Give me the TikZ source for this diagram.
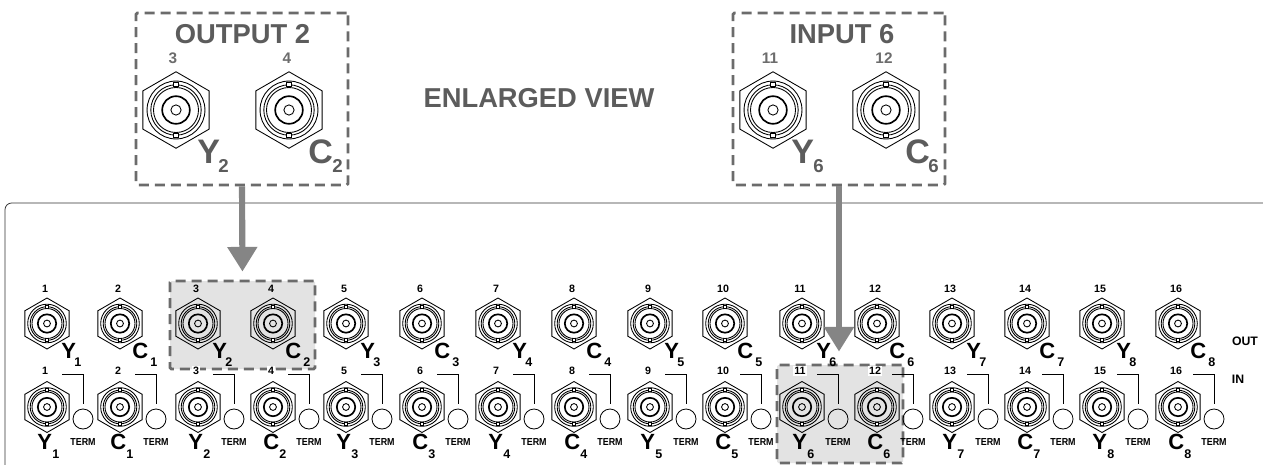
\documentclass[tikz,border=0pt]{standalone}
\usepackage{graphicx}
\usepackage{fontspec}
\setmainfont{Liberation Sans}
\usetikzlibrary{arrows.meta}
\definecolor{dashgray}{gray}{0.42}
\definecolor{arrowgray}{gray}{0.52}
\definecolor{hlgray}{gray}{0.89}
\definecolor{titlegray}{gray}{0.36}
\tikzset{
  x=0.75pt,y=-0.75pt,
  hexline/.style={line width=0.65pt,black},
  dashbox/.style={draw=dashgray,line width=2.1pt,dash pattern=on 7.5pt off 4.5pt,rounded corners=1pt,inner sep=0pt},
  flowarrow/.style={draw=arrowgray,line width=4.6pt,-{Triangle[length=18.5pt,width=21.5pt]}},
  lab/.style={font=\bfseries,inner sep=0pt},
  bigl/.style={lab,anchor=base west,font=\fontsize{16.5}{17}\bfseries},
  subl/.style={lab,anchor=base west,font=\fontsize{9.4}{10}\bfseries},
  numl/.style={lab,font=\fontsize{8}{9}\bfseries},
  hugel/.style={lab,anchor=base west,text=titlegray,font=\fontsize{25.5}{26}\bfseries},
  hugesub/.style={lab,anchor=base west,text=titlegray,font=\fontsize{14}{15}\bfseries},
  hugenum/.style={lab,text=titlegray!90,font=\fontsize{11.5}{12}\bfseries},
  titlel/.style={lab,text=titlegray,font=\fontsize{20.5}{22}\bfseries},
  termcirc/.style={draw,circle,line width=0.6pt,minimum size=15pt,inner sep=0pt},
  bracket/.style={line width=0.65pt,shorten >=3.6pt},
  bnc/.pic={
    \draw[hexline] (90:25.5) -- (30:25.5) -- (-30:25.5) -- (-90:25.5) -- (-150:25.5) -- (150:25.5) -- cycle;
    \draw[hexline] (0,0) circle (19.3) (0,0) circle (16.8) (0,0) circle (15);
    \draw[line width=1.25pt] (0,0) circle (9.2);
    \draw[hexline] (0,0) circle (3.4);
    \draw[hexline,fill=white] (-1.6,-18.4) rectangle (1.6,-15.4);
    \draw[hexline,fill=white] (-1.6,15.4) rectangle (1.6,18.4);
  },
}
\newcommand{\termtext}[1]{\scalebox{0.88}[1]{#1}}
\begin{document}
\begin{tikzpicture}
\useasboundingbox (0,0) rectangle (1263,464);
\fill[white] (0,0) rectangle (1263,464);
% panel
\draw[line width=0.6pt,black!80,rounded corners=5pt] (5,470) |- (1270,203);
% highlight boxes
\node[dashbox,fill=hlgray,minimum width=108.75pt,minimum height=66pt] (hlA) at (242.5,325) {};
\node[dashbox,fill=hlgray,minimum width=94.5pt,minimum height=73.5pt] (hlB) at (840,414) {};
% enlarged boxes
\node[dashbox,minimum width=159pt,minimum height=129pt] (boxA) at (242,99) {};
\node[dashbox,minimum width=159pt,minimum height=129pt] (boxB) at (839,99) {};
\node[titlel] (titleA) at (242.5,34) {OUTPUT 2};
\node[titlel] (titleB) at (842,34) {INPUT 6};
\node[lab,text=titlegray,font=\fontsize{20.5}{22}\bfseries] (enl) at (539,98) {ENLARGED VIEW};
% enlarged connectors
\pic[scale=1.5] at (176,110) {bnc};
\pic[scale=1.5] at (289,110) {bnc};
\pic[scale=1.5] at (773,110) {bnc};
\pic[scale=1.5] at (886,110) {bnc};
\node[hugenum] (nA) at (173,58) {3};
\node[hugenum] (nB) at (287,58) {4};
\node[hugenum] (nC) at (770,58) {11};
\node[hugenum] (nD) at (884,58) {12};
\node[hugel] (lA) at (197,163) {Y};
\node[hugesub] (sA) at (218,172) {2};
\node[hugel] (lB) at (308,163) {C};
\node[hugesub] (sB) at (332,172) {2};
\node[hugel] (lC) at (791,163) {Y};
\node[hugesub] (sC) at (813,172) {6};
\node[hugel] (lD) at (905,163) {C};
\node[hugesub] (sD) at (928,172) {6};
% connector rows
\foreach \n/\x/\l/\s in {1/47/Y/1,2/120/C/1,3/198/Y/2,4/273/C/2,5/346/Y/3,6/422/C/3,7/498/Y/4,8/574/C/4,9/650/Y/5,10/725/C/5,11/802/Y/6,12/877/C/6,13/952/Y/7,14/1027/C/7,15/1102/Y/8,16/1178/C/8}{
  \pic at (\x,323.5) {bnc};
  \pic at (\x,407) {bnc};
  \node[numl] (ot\n) at (\x-2,289) {\n};
  \node[numl,fill=white,inner sep=0.8pt] (in\n) at (\x-2,371) {\n};
  \node[termcirc] (t\n) at (\x+36,419) {};
  \coordinate (b\n) at (\x+15,374);
  \draw[bracket] (b\n) -| (t\n.north);
  \node[lab,font=\fontsize{7.6}{8}\bfseries] (tt\n) at (\x+36,442) {\termtext{TERM}};
  \if\l Y
    \node[bigl] (ol\n) at (\x+14,358) {\l};
    \node[subl] (os\n) at (\x+27,366) {\s};
    \node[bigl] (il\n) at (\x-10,449) {\l};
    \node[subl] (is\n) at (\x+5,458) {\s};
  \else
    \node[bigl] (ol\n) at (\x+12,358) {\l};
    \node[subl] (os\n) at (\x+30,366) {\s};
    \node[bigl] (il\n) at (\x-10,449) {\l};
    \node[subl] (is\n) at (\x+6,458) {\s};
  \fi
}
\node[lab,font=\fontsize{9.2}{10}\bfseries] (out) at (1245,341) {OUT};
\node[lab,font=\fontsize{9.2}{10}\bfseries] (inn) at (1238,379) {IN};
% arrows
\draw[flowarrow,shorten >=6pt] (boxA.south) -- (hlA.north);
\draw[flowarrow,shorten >=9pt] (boxB.south) -- (boxB.south |- hlB.north);
\end{tikzpicture}
\end{document}
